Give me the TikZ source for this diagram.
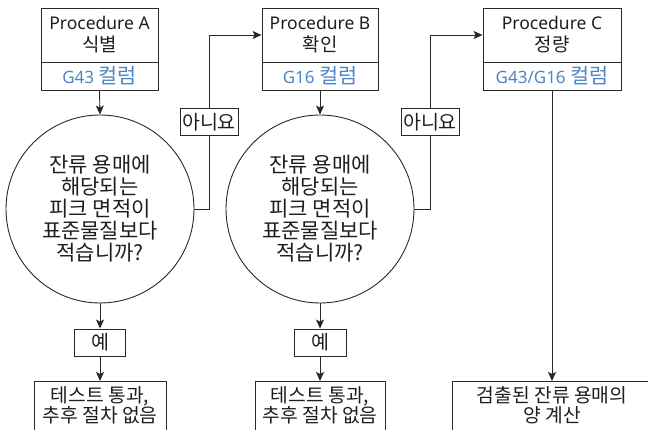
\documentclass[tikz,border=0pt]{standalone}
\usepackage{fontspec}
\setmainfont{Noto Sans}
\newfontfamily\kr[Scale=1.22]{Noto Sans CJK KR}
\usetikzlibrary{arrows.meta}
\definecolor{lc}{RGB}{40,40,40}
\definecolor{tc}{RGB}{30,30,30}
\definecolor{blu}{RGB}{74,134,200}
\newcommand{\krsub}[1]{{\kr\fontsize{15.5}{22}\selectfont #1}}
\tikzset{
  base/.style={draw=lc, line width=0.9pt, inner sep=0pt, text=tc},
  proc/.style={base, minimum height=54pt, align=center, font=\fontsize{17.5}{22}\selectfont},
  col/.style={base, minimum height=28pt, text=blu, font=\fontsize{17}{20}\selectfont},
  dec/.style={base, circle, minimum size=188pt, align=center, font=\kr\fontsize{17.2}{22}\selectfont},
  lab/.style={base, minimum height=27pt, font=\kr\fontsize{16}{20}\selectfont},
  endbox/.style={base, minimum height=70pt, anchor=north},
  endtxt/.style={align=center, text=tc, inner sep=0pt, font=\kr\fontsize{15.8}{20}\selectfont},
  arr/.style={draw=lc, line width=0.9pt, -{Stealth[length=9pt,width=8pt,inset=2pt]}},
  ln/.style={draw=lc, line width=0.9pt}
}
\begin{document}
\begin{tikzpicture}[x=1pt,y=-1pt]
\useasboundingbox (0,0) rectangle (648,430);
\clip (0,0) rectangle (648,430);
% Procedure boxes
\node[proc, minimum width=117pt] (pA) at (99.5,35) {Procedure A\\\krsub{식별}};
\node[col, minimum width=117pt] (cA) at (99.5,76) {G43 {\kr 컬럼}};
\node[proc, minimum width=116pt] (pB) at (320,35) {Procedure B\\\krsub{확인}};
\node[col, minimum width=116pt] (cB) at (320,76) {G16 {\kr 컬럼}};
\node[proc, minimum width=138pt] (pC) at (552,35) {Procedure C\\\krsub{정량}};
\node[col, minimum width=138pt] (cC) at (552,76) {G43/G16 {\kr 컬럼}};
% decisions
\node[dec] (dA) at (100,209) {잔류 용매에\\해당되는\\피크 면적이\\표준물질보다\\적습니까?};
\node[dec] (dB) at (320,209) {잔류 용매에\\해당되는\\피크 면적이\\표준물질보다\\적습니까?};
% labels
\node[lab, minimum width=58pt] (nA) at (209,122) {아니요};
\node[lab, minimum width=58pt] (nB) at (430,122) {아니요};
\node[lab, minimum width=51pt] (yA) at (100,342.5) {예};
\node[lab, minimum width=52pt] (yB) at (320,342.5) {예};
% end boxes
\node[endbox, minimum width=132pt] (eA) at (100,381) {};
\node[endtxt] (tA) at (100,405) {테스트 통과,\\추후 절차 없음};
\node[endbox, minimum width=130pt] (eB) at (320,381) {};
\node[endtxt] (tB) at (320,405) {테스트 통과,\\추후 절차 없음};
\node[endbox, minimum width=200pt] (eC) at (552,381) {};
\node[endtxt] (tC) at (552,405) {검출된 잔류 용매의\\양 계산};
% connectors
\draw[arr] (cA.south) -- (dA.north);
\draw[arr] (dA.south) -- (yA.north);
\draw[arr] (yA.south) -- (eA.north);
\draw[ln] (dA.east) -| (nA.south);
\draw[arr] (nA.north) |- (pB.west);
\draw[arr] (cB.south) -- (dB.north);
\draw[arr] (dB.south) -- (yB.north);
\draw[arr] (yB.south) -- (eB.north);
\draw[ln] (dB.east) -| (nB.south);
\draw[arr] (nB.north) |- (pC.west);
\draw[arr] (cC.south) -- (eC.north);
\end{tikzpicture}
\end{document}
